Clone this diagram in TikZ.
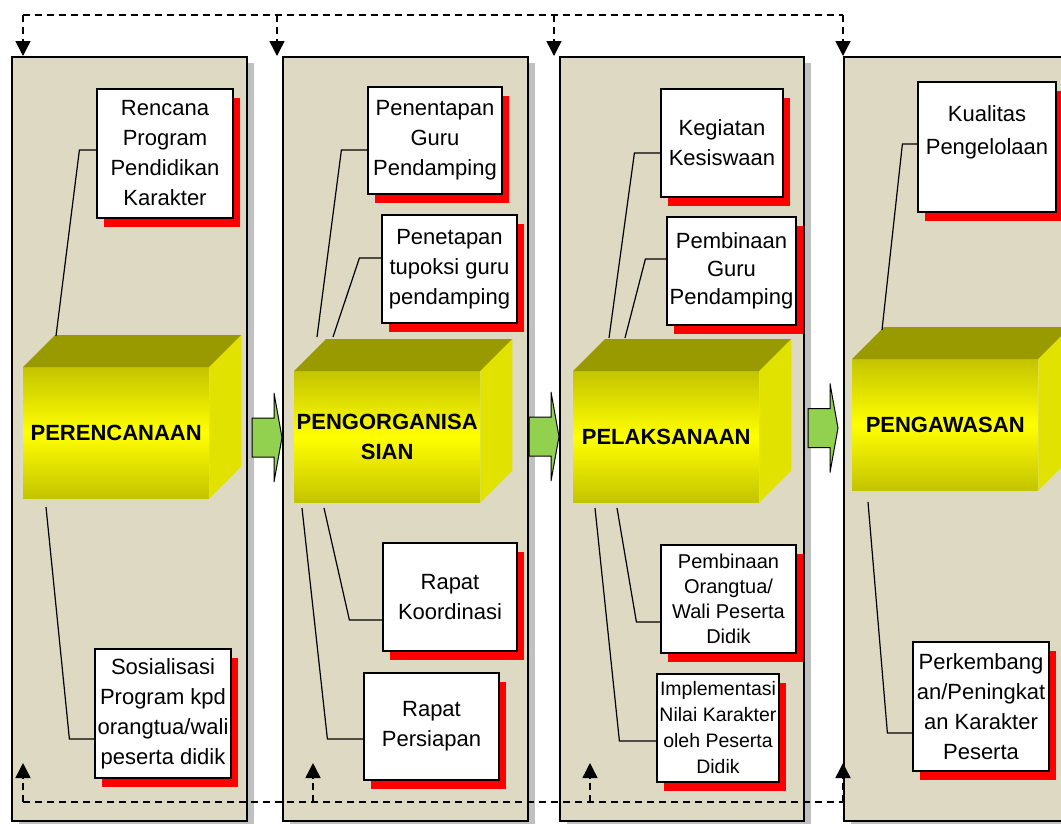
\documentclass[tikz,border=0pt]{standalone}
\usepackage{fontspec}
\setmainfont{Liberation Sans}
\usetikzlibrary{positioning, arrows.meta, shadows, calc}

\definecolor{panelbg}{RGB}{221,217,195}
\definecolor{panelshade}{RGB}{192,192,192}
\definecolor{boxtop}{RGB}{153,153,0}
\definecolor{boxedge}{RGB}{196,196,0}
\definecolor{boxside}{RGB}{226,226,0}
\definecolor{flowgreen}{RGB}{146,208,80}

\begin{document}
\begin{tikzpicture}[x=1pt, y=-1pt,
    panel/.style={draw, line width=1.5pt, fill=panelbg, anchor=north west, inner sep=0pt,
      minimum width=#1, minimum height=764pt,
      drop shadow={shadow xshift=7pt, shadow yshift=-6pt, fill=panelshade, opacity=1}},
    cuboid/.style={anchor=north west, inner sep=0pt, minimum width=186pt, minimum height=131pt,
      top color=boxedge, bottom color=boxedge, middle color=yellow, align=center,
      font=\fontsize{22}{30}\selectfont\bfseries},
    card/.style={draw, line width=1.2pt, fill=white, align=center, inner sep=1pt,
      font=\fontsize{22}{30}\selectfont,
      drop shadow={shadow xshift=7pt, shadow yshift=-9pt, fill=red, opacity=1}},
    link/.style={line width=1.2pt},
    feedback/.style={line width=1.5pt, dash pattern=on 7pt off 5pt},
    tip/.style={-{Triangle[width=15pt, length=15pt]}},
    flow/.pic={\draw[line width=1pt, fill=flowgreen] (0,-19.5) -- (22,-19.5) -- (22,-44.5)
      -- (30,0) -- (22,44.5) -- (22,19.5) -- (0,19.5) -- cycle;}]
  \useasboundingbox (0,0) rectangle (1061,823);
  \clip (0,0) rectangle (1061,823);

  % the four stages
  \node[panel=235pt] (frame1) at (11,56) {};
  \node[panel=245pt] (frame2) at (282,56) {};
  \node[panel=244pt] (frame3) at (559,56) {};
  \node[panel=240pt] (frame4) at (843,56) {};

  \pic at (252,437.5) {flow};
  \pic at (529,436.5) {flow};
  \pic at (808,428) {flow};

  % feedback loops
  \coordinate (t1) at (23,15);
  \coordinate (t2) at (277,15);
  \coordinate (t3) at (554,15);
  \coordinate (t4) at (843,15);
  \draw[feedback] (t1) -- (t4);
  \foreach \i in {1,...,4}
    \draw[feedback, tip] (t\i) -- (t\i |- frame1.north);

  \coordinate (u1) at (23,802);
  \coordinate (u2) at (313,802);
  \coordinate (u3) at (590,802);
  \coordinate (u4) at (843,802);
  \draw[feedback] (u1) -- (u4);
  \foreach \i in {1,...,4}
    \draw[feedback, tip] (u\i) -- ++(0,-39);

  % boxes
  \node[cuboid] (plan) at (23,367) {PERENCANAAN};
  \node[cuboid] (org) at (294,371) {PENGORGANISA\\SIAN};
  \node[cuboid] (act) at (573,371) {PELAKSANAAN};
  \node[cuboid] (eval) at (852,359) {PENGAWASAN};
  \foreach \c in {plan,org,act,eval} {
    \fill[boxtop] (\c.north west) -- ++(32,-32) -- ([shift={(32,-32)}]\c.north east)
      -- (\c.north east) -- cycle;
    \fill[boxside] (\c.north east) -- ++(32,-32) -- ([shift={(32,-32)}]\c.south east)
      -- (\c.south east) -- cycle;
  }

  \coordinate (plan-a) at (56,336);
  \coordinate (plan-b) at (46,507);
  \coordinate (org-a) at (317,337);
  \coordinate (org-b) at (333,337);
  \coordinate (org-c) at (324,508);
  \coordinate (org-d) at (302,508);
  \coordinate (act-a) at (609,338);
  \coordinate (act-b) at (625,338);
  \coordinate (act-c) at (617,508);
  \coordinate (act-d) at (595,508);
  \coordinate (eval-a) at (882,330);
  \coordinate (eval-b) at (868,502);

  \node[card, minimum width=136pt, minimum height=129pt] (plan1) at (165,153.5)
    {Rencana\\Program\\Pendidikan\\Karakter};
  \node[card, minimum width=136pt, minimum height=129pt] (plan2) at (163,713.5)
    {Sosialisasi\\Program kpd\\orangtua/wali\\peserta didik};
  \node[card, minimum width=134pt, minimum height=107pt] (org1) at (435,140.5)
    {Penentapan\\Guru\\Pendamping};
  \node[card, minimum width=135pt, minimum height=108pt] (org2) at (449.5,269)
    {Penetapan\\tupoksi guru\\pendamping};
  \node[card, minimum width=134pt, minimum height=108pt] (org3) at (450,597)
    {Rapat\\Koordinasi};
  \node[card, minimum width=135pt, minimum height=107pt] (org4) at (431.5,726.5)
    {Rapat\\Persiapan};
  \node[card, minimum width=122pt, minimum height=108pt] (act1) at (722,143)
    {Kegiatan\\Kesiswaan};
  \node[card, minimum width=129pt, minimum height=108pt, font=\fontsize{22}{28}\selectfont]
    (act2) at (731.5,271) {Pembinaan\\Guru\\Pendamping};
  \node[card, minimum width=135pt, minimum height=108pt, font=\fontsize{20}{25}\selectfont]
    (act3) at (728.5,599) {Pembinaan\\Orangtua/\\Wali Peserta\\Didik};
  \node[card, minimum width=122pt, minimum height=108pt, font=\fontsize{19.5}{26}\selectfont]
    (act4) at (718,728) {Implementasi\\Nilai Karakter\\oleh Peserta\\Didik};
  \node[card, minimum width=138pt, minimum height=130pt, font=\fontsize{22}{33}\selectfont]
    (eval1) at (987,147) {Kualitas\\Pengelolaan\\\mbox{}};
  \node[card, minimum width=136pt, minimum height=129pt] (eval2) at (981,706.5)
    {Perkembang\\an/Peningkat\\an Karakter\\Peserta};

  % connectors
  \draw[link] ([yshift=3.5pt]plan1.west) -- ++(-17,0) -- (plan-a);
  \draw[link] ([yshift=-25.5pt]plan2.west) -- ++(-25,0) -- (plan-b);
  \draw[link] ([yshift=-9.5pt]org1.west) -- ++(-26,0) -- (org-a);
  \draw[link] ([yshift=11pt]org2.west) -- ++(-22,0) -- (org-b);
  \draw[link] ([yshift=-23pt]org3.west) -- ++(-33,0) -- (org-c);
  \draw[link] ([yshift=-12.5pt]org4.west) -- ++(-36,0) -- (org-d);
  \draw[link] ([yshift=-10pt]act1.west) -- ++(-26,0) -- (act-a);
  \draw[link] ([yshift=12pt]act2.west) -- ++(-21,0) -- (act-b);
  \draw[link] ([yshift=-23pt]act3.west) -- ++(-24,0) -- (act-c);
  \draw[link] ([yshift=-13pt]act4.west) -- ++(-37,0) -- (act-d);
  \draw[link] ([yshift=3pt]eval1.west) -- ++(-15,0) -- (eval-a);
  \draw[link] ([yshift=-26.5pt]eval2.west) -- ++(-25,0) -- (eval-b);
\end{tikzpicture}
\end{document}
